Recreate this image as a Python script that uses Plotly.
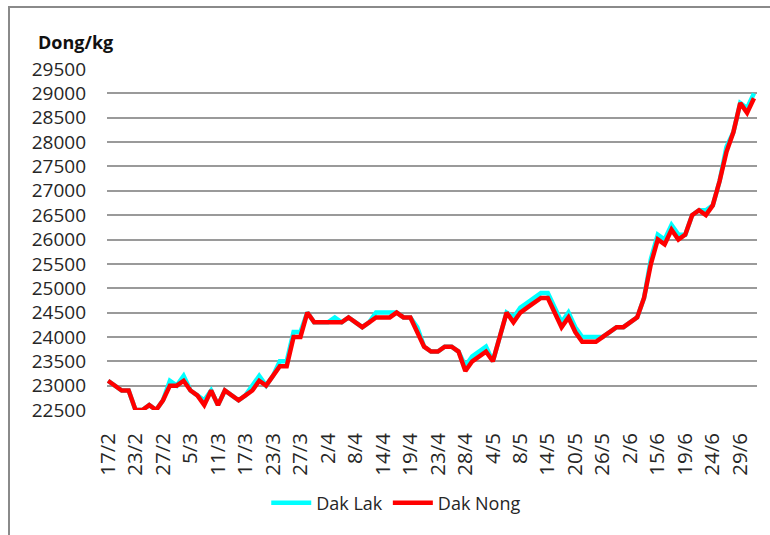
import plotly.graph_objects as go

# Daily farm-gate coffee prices (Dong/kg), one value per trading day
dak_lak = [
    23100, 23000, 22900, 22900, 22500, 22500, 22600, 22500, 22700, 23100,
    23000, 23200, 22900, 22800, 22700, 22900, 22600, 22900, 22800, 22700,
    22800, 23000, 23200, 23000, 23200, 23500, 23500, 24100, 24100, 24500,
    24300, 24300, 24300, 24400, 24300, 24400, 24300, 24200, 24300, 24500,
    24500, 24500, 24500, 24400, 24400, 24200, 23800, 23700, 23700, 23800,
    23800, 23700, 23400, 23600, 23700, 23800, 23500, 24000, 24500, 24400,
    24600, 24700, 24800, 24900, 24900, 24600, 24300, 24500, 24200, 24000,
    24000, 24000, 24000, 24100, 24200, 24200, 24300, 24400, 24800, 25600,
    26100, 26000, 26300, 26100, 26100, 26500, 26600, 26600, 26700, 27200,
    27900, 28200, 28800, 28700, 29000,
]
dak_nong = [
    23100, 23000, 22900, 22900, 22500, 22500, 22600, 22500, 22700, 23000,
    23000, 23100, 22900, 22800, 22600, 22900, 22600, 22900, 22800, 22700,
    22800, 22900, 23100, 23000, 23200, 23400, 23400, 24000, 24000, 24500,
    24300, 24300, 24300, 24300, 24300, 24400, 24300, 24200, 24300, 24400,
    24400, 24400, 24500, 24400, 24400, 24100, 23800, 23700, 23700, 23800,
    23800, 23700, 23300, 23500, 23600, 23700, 23500, 24000, 24500, 24300,
    24500, 24600, 24700, 24800, 24800, 24500, 24200, 24400, 24100, 23900,
    23900, 23900, 24000, 24100, 24200, 24200, 24300, 24400, 24800, 25500,
    26000, 25900, 26200, 26000, 26100, 26500, 26600, 26500, 26700, 27200,
    27800, 28200, 28800, 28600, 28900,
]
# Dates shown on the category axis (every fourth trading day)
tick_labels = [
    "17/2", "23/2", "27/2", "5/3", "11/3", "17/3", "23/3", "27/3",
    "2/4", "8/4", "14/4", "19/4", "23/4", "28/4", "4/5", "8/5",
    "14/5", "20/5", "26/5", "2/6", "15/6", "19/6", "24/6", "29/6",
]
label_step = 4

days = list(range(len(dak_nong)))
tick_pos = [i * label_step for i in range(len(tick_labels))]

FONT = "Open Sans"
TEXT = "#262626"

fig = go.Figure()
fig.add_trace(go.Scatter(
    x=days, y=dak_lak, name="Dak Lak", mode="lines",
    line=dict(color="#00FFFF", width=4.5),
))
fig.add_trace(go.Scatter(
    x=days, y=dak_nong, name="Dak Nong", mode="lines",
    line=dict(color="#FF0000", width=4.5),
))

fig.update_layout(
    width=770, height=535,
    margin=dict(l=107, r=13, t=69, b=125),
    paper_bgcolor="white", plot_bgcolor="white",
    font=dict(family=FONT, size=18, color=TEXT),
    showlegend=True,
    legend=dict(
        orientation="h", x=0.445, xanchor="center", y=-0.273, yanchor="middle",
        font=dict(family=FONT, size=18, color=TEXT),
        itemwidth=40, bgcolor="rgba(0,0,0,0)",
    ),
    xaxis=dict(
        range=[-0.15, 94.44],
        tickmode="array", tickvals=tick_pos, ticktext=tick_labels,
        tickangle=-90, ticks="", showgrid=False, zeroline=False,
        showline=False, ticklabelstandoff=18,
        tickfont=dict(family=FONT, size=20.5, color=TEXT),
    ),
    yaxis=dict(
        range=[22500, 29500], dtick=500, tick0=22500, tickformat="d",
        showgrid=True, gridcolor="#9a9a9a", gridwidth=1.5,
        zeroline=False, showline=False, ticks="",
        ticklabelstandoff=20,
        tickfont=dict(family=FONT, size=19, color=TEXT),
    ),
    annotations=[dict(
        text="<b>Dong/kg</b>", xref="paper", yref="paper",
        x=(36 - 107) / 650, y=(410 - 42) / 341,
        xanchor="left", yanchor="middle", showarrow=False,
        font=dict(family=FONT, size=18, color="#111111"),
    )],
    shapes=[dict(
        type="rect", xref="paper", yref="paper",
        x0=(9 - 107) / 650, x1=(775 - 107) / 650,
        y0=(410 - 540) / 341, y1=(410 - 7) / 341,
        line=dict(color="#8a8a8a", width=2), fillcolor="rgba(0,0,0,0)",
        layer="below",
    )],
)

fig.write_html("out.html")
